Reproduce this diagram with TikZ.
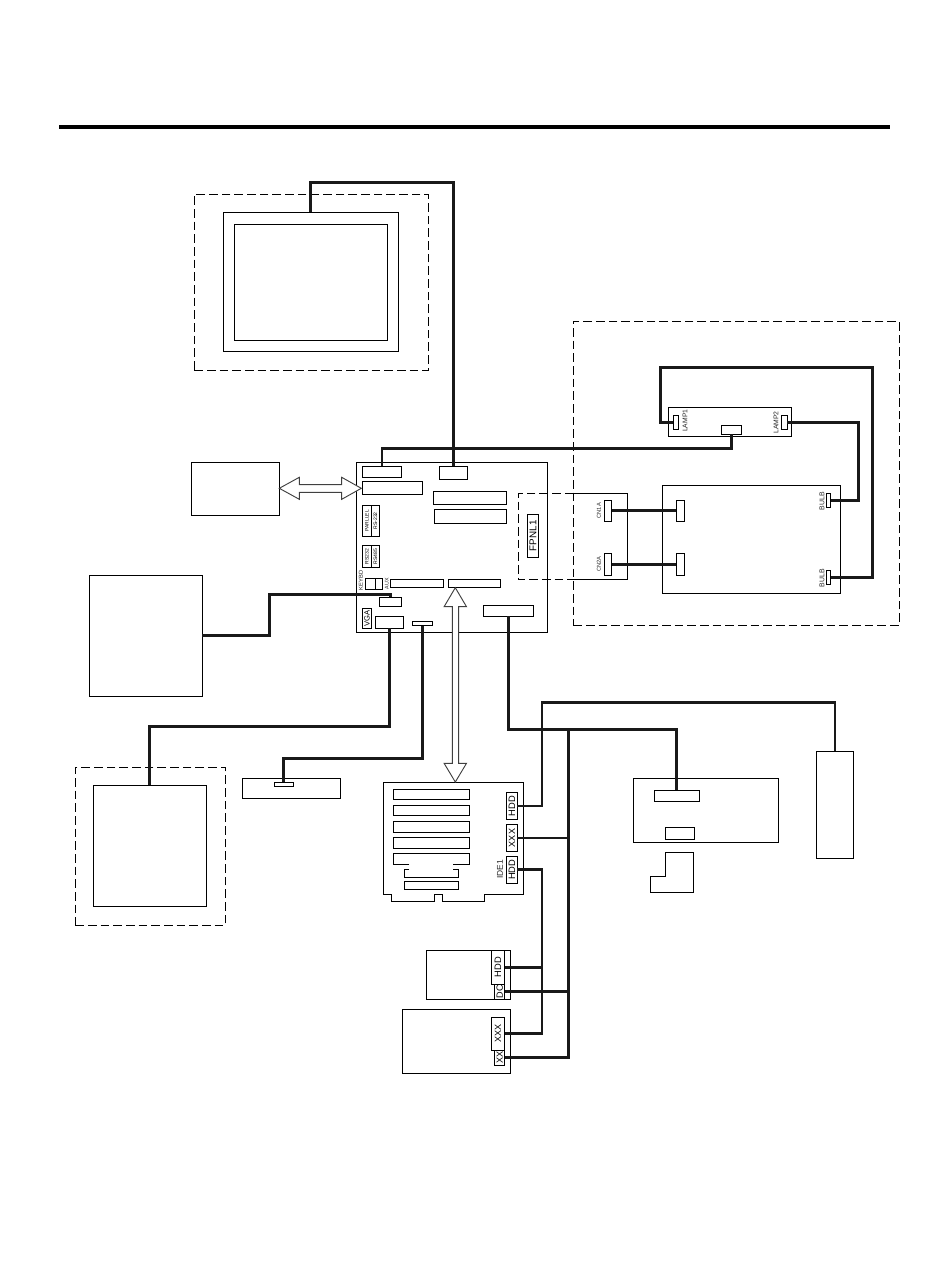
\documentclass[tikz,border=0pt]{standalone}
\usepackage{fontspec}
\usepackage{graphicx}
\setmainfont{Liberation Sans}
\tikzset{
  thinbox/.style={draw=black,line width=.82pt,inner sep=0pt,outer sep=0pt,rectangle,anchor=center},
  dashline/.style={draw=black,line width=.65pt,dash pattern=on 6.5pt off 3pt},
  solid line/.style={draw=black,line width=.82pt,line join=miter},
  wire/.style={draw=black!90,line width=2.15pt,line join=miter},
  lbl/.style={inner sep=0pt,outer sep=0pt,text=black!85},
  dblarrow/.style={draw=black!75,line width=.7pt,fill=white,line join=miter},
}
\newcommand\pbox[7]{%
  \pgfmathsetmacro\cxv{(#2+#4)/2}\pgfmathsetmacro\cyv{(#3+#5)/2}%
  \node[thinbox,#6,minimum width={(#4-#2)*.75pt},minimum height={(#5-#3)*.75pt}] (#1) at (\cxv,\cyv) {#7};}
\newcommand\rt[2]{\rotatebox{90}{\fontsize{#1pt}{#1pt}\selectfont #2}}
\begin{document}
\begin{tikzpicture}[x=.75pt,y=-.75pt]
\useasboundingbox (0,0) rectangle (950,1267);
\fill[white] (0,0) rectangle (950,1267);
% header rule
\coordinate (ruleL) at (59,126.5);
\coordinate (ruleR) at (890,126.5);
\draw[line width=3pt] (ruleL) -- (ruleR);
% dashed enclosures
\pbox{dashA}{194.35}{194.35}{428.35}{370.35}{dashline}{}
\pbox{dashB}{573.35}{321.35}{899.35}{625.35}{dashline}{}
\pbox{dashC}{75.35}{767.35}{225.35}{925.35}{dashline}{}
% monitor
\pbox{mon}{223.35}{212.35}{398.35}{351.35}{}{}
\pbox{moninner}{234.35}{224.35}{387.35}{340.35}{}{}
% stand-alone boxes
\pbox{hostbox}{191.35}{462.35}{279.35}{515.35}{}{}
\pbox{leftbox}{89.35}{575.35}{202.35}{696.35}{}{}
\pbox{dispbox}{93.35}{785.35}{206.35}{906.35}{}{}
\pbox{kbbox}{242.35}{778.35}{340.35}{798.35}{}{}
\pbox{kbconn}{274.35}{782.35}{293.35}{786.35}{}{}
% main board
\pbox{board}{356.5}{462.35}{547.3}{632.35}{}{}
\pbox{connA}{362.3}{466.3}{401.7}{477.3}{}{}
\pbox{connB}{439.3}{466.3}{467.3}{479.3}{}{}
\pbox{connC}{362.3}{481.3}{422.3}{494.3}{}{}
\pbox{connD}{433.3}{491.7}{506.3}{504.3}{}{}
\pbox{connE}{434.3}{509.3}{506.3}{523.3}{}{}
\pbox{parl}{362.3}{505.3}{371.3}{536.3}{}{\rt{3.7}{PARLLEL}}
\pbox{rsa}{371.3}{505.3}{379.3}{536.3}{}{\rt{3.8}{RS-232}}
\pbox{rsb}{362.3}{545.3}{371.3}{567.3}{}{\rt{3.8}{RS232}}
\pbox{rsc}{371.3}{545.3}{379.3}{567.3}{}{\rt{3.8}{RS485}}
\pbox{keyL}{365.3}{578.3}{375.3}{589.3}{}{}
\pbox{keyR}{375.3}{578.3}{382.7}{589.3}{}{}
\node[lbl] (keylbl) at (361,580.5) {\rt{4.3}{KEYBD}};
\node[lbl] (auxlbl) at (386.7,583.7) {\rt{4}{AUX}};
\pbox{slotL}{390.3}{579.3}{443.3}{587.3}{}{}
\pbox{slotR}{448.3}{579.3}{500.3}{587.3}{}{}
\pbox{auxconn}{379.3}{597.3}{401.7}{606.3}{}{}
\pbox{vgalbl}{362.3}{608.3}{371.7}{628.3}{}{\rt{5.7}{VGA}}
\pbox{vgaconn}{375.3}{616.3}{403.7}{628.3}{}{}
\pbox{smallconn}{412.3}{621.3}{432.7}{625.7}{}{}
\pbox{rconn}{483.3}{605.3}{533.3}{616.3}{}{}
\pbox{fpnl}{527.7}{514.3}{538.3}{557.3}{}{\rt{7.4}{FPNL1}}
% FPNL / inverter outline
\coordinate (fa) at (573.35,493.3);
\coordinate (fb) at (518.3,493.3);
\coordinate (fc) at (518.3,579.3);
\coordinate (fd) at (573.35,579.3);
\coordinate (fe) at (627.3,579.3);
\coordinate (ff) at (627.3,493.3);
\draw[dashline] (fa) -- (fb) -- (fc) -- (fd);
\draw[solid line] (fa) -- (ff) -- (fe) -- (fd);
\pbox{cn1}{604.7}{500.3}{611.7}{521.3}{}{}
\pbox{cn2}{604.7}{553.3}{611.7}{575.3}{}{}
\node[lbl] (cn1lbl) at (599,510.7) {\rt{4.3}{CN1A}};
\node[lbl] (cn2lbl) at (599,564) {\rt{4.3}{CN2A}};
% lamp board
\pbox{lampb}{668.3}{407.3}{791.3}{436.3}{}{}
\pbox{lamp1}{673.3}{415.3}{678.7}{429.3}{}{}
\pbox{lamp2}{781.3}{415.3}{787.3}{429.3}{}{}
\pbox{lampmid}{721.3}{425.3}{741.7}{434.3}{}{}
\node[lbl] (l1lbl) at (685,420.7) {\rt{5.1}{LAMP1}};
\node[lbl] (l2lbl) at (776,422.5) {\rt{5.1}{LAMP2}};
% bulb board
\pbox{bulbb}{662.3}{485.3}{840.3}{593.3}{}{}
\pbox{d1}{676.3}{500.3}{684.3}{521.3}{}{}
\pbox{d2}{676.3}{553.3}{684.3}{575.3}{}{}
\pbox{bulb1}{826.7}{493.3}{830.7}{507.3}{}{}
\pbox{bulb2}{826.7}{570.3}{830.7}{584.3}{}{}
\node[lbl] (b1lbl) at (822,501) {\rt{5.2}{BULB}};
\node[lbl] (b2lbl) at (822,578) {\rt{5.2}{BULB}};
% riser card
\draw[solid line] (383.3,782.3) -- (523.7,782.3) -- (523.7,894.3) -- (484.3,894.3) -- (484.3,901.7) -- (442.3,901.7) -- (442.3,894.3) -- (434.3,894.3) -- (434.3,901.7) -- (391.7,901.7) -- (391.7,894.3) -- (383.3,894.3) -- cycle;
\pbox{s1}{393.3}{789.3}{469.3}{799.3}{}{}
\pbox{s2}{393.3}{805.3}{469.3}{815.3}{}{}
\pbox{s3}{393.3}{821.3}{469.3}{832.3}{}{}
\pbox{s4}{393.3}{837.3}{469.3}{848.3}{}{}
\draw[solid line] (409.3,864.3) -- (393.3,864.3) -- (393.3,853.3) -- (469.3,853.3) -- (469.3,864.3) -- (452.7,864.3);
\draw[solid line] (409.3,869.3) -- (404.3,869.3) -- (404.3,877.3) -- (458.7,877.3) -- (458.7,869.3) -- (452.7,869.3);
\pbox{s7}{404.3}{881.3}{458.7}{889.3}{}{}
\pbox{hdd1}{506.7}{792.3}{517.3}{819.7}{}{\rt{7}{HDD}}
\pbox{xxx1}{506.7}{824.3}{517.3}{851.7}{}{\rt{6.8}{XXX}}
\pbox{hdd2}{506.7}{856.3}{517.3}{883.3}{}{\rt{7}{HDD}}
\node[lbl] (idelbl) at (500,869.3) {\rt{6.3}{IDE1}};
% drives
\pbox{drive1}{426.35}{950.35}{510.7}{999.3}{}{}
\pbox{dhdd}{491.3}{950.35}{504.7}{984.3}{}{\rt{7}{HDD}}
\pbox{ddc}{494.7}{984.3}{504.7}{999.3}{}{\rt{6.8}{DC}}
\pbox{drive2}{402.3}{1009.3}{510.7}{1073.3}{}{}
\pbox{dxxx}{491.3}{1017.3}{504.7}{1050.3}{}{\rt{6.8}{XXX}}
\pbox{dxx}{494.7}{1050.3}{504.7}{1065.3}{}{\rt{6.8}{XX}}
% right-hand boxes
\pbox{frontb}{633.3}{778.3}{778.3}{842.3}{}{}
\pbox{frontc}{654.3}{790.3}{699.3}{801.3}{}{}
\pbox{frontd}{665.3}{827.3}{694.3}{839.3}{}{}
\draw[solid line] (665.3,852.3) -- (693.3,852.3) -- (693.3,892.3) -- (650.3,892.3) -- (650.3,876.3) -- (665.3,876.3) -- cycle;
\pbox{psu}{816.3}{751.35}{853.7}{858.3}{}{}
% connector bend points
\coordinate (t1) at (400,182.5);
\coordinate (t2) at (500,448.5);
\coordinate (a1) at (660.5,367.5);
\coordinate (a2) at (872.5,577);
\coordinate (a3) at (858.5,500.3);
\coordinate (b1) at (269.5,594.5);
\coordinate (b2) at (300,726.5);
\coordinate (b3) at (350,758.5);
\coordinate (j1) at (568.5,729.5);
\coordinate (k1) at (542,702.5);
\coordinate (k2) at (542,1000);
% wires
\draw[wire] (mon.north) |- (t1) -| (connB.north);
\draw[wire] (lampmid.south) |- (t2) -| (connA.north);
\draw[wire] (lamp1.west) -| (a1) -| (a2) |- (bulb2.east);
\draw[wire] (lamp2.east) -| (a3) |- (bulb1.east);
\draw[wire] (cn1.east) -- (d1.west);
\draw[wire] (cn2.east) -- (d2.west);
\draw[wire] (leftbox.east) -| (b1) -| (auxconn.north);
\draw[wire] (vgaconn.south) |- (b2) -| (dispbox.north);
\draw[wire] (smallconn.south) |- (b3) -| (kbconn.north);
\draw[wire] (rconn.south) |- (j1) -| (frontc.north);
\draw[wire] (xxx1.east) -| (j1);
\draw[wire] (ddc.east) -| (j1);
\draw[wire] (dxx.east) -| (j1);
\draw[wire] (hdd1.east) -| (k1) -| (psu.north);
\draw[wire] (hdd2.east) -| (k2);
\draw[wire] (dhdd.east) -| (k2);
\draw[wire] (dxxx.east) -| (k2);
% double arrows
\draw[dblarrow] (279.3,488.3) -- (299.3,477.3) -- (299.3,484.6) -- (341.7,484.6) -- (341.7,477.3) -- (361.3,488.3) -- (341.7,499.3) -- (341.7,492.3) -- (299.3,492.3) -- (299.3,499.3) -- cycle;
\draw[dblarrow] (455.3,587.7) -- (466.5,606.7) -- (458.6,606.7) -- (458.6,763.3) -- (466.5,763.3) -- (455.3,782) -- (444.1,763.3) -- (452.3,763.3) -- (452.3,606.7) -- (444.1,606.7) -- cycle;
\end{tikzpicture}
\end{document}
